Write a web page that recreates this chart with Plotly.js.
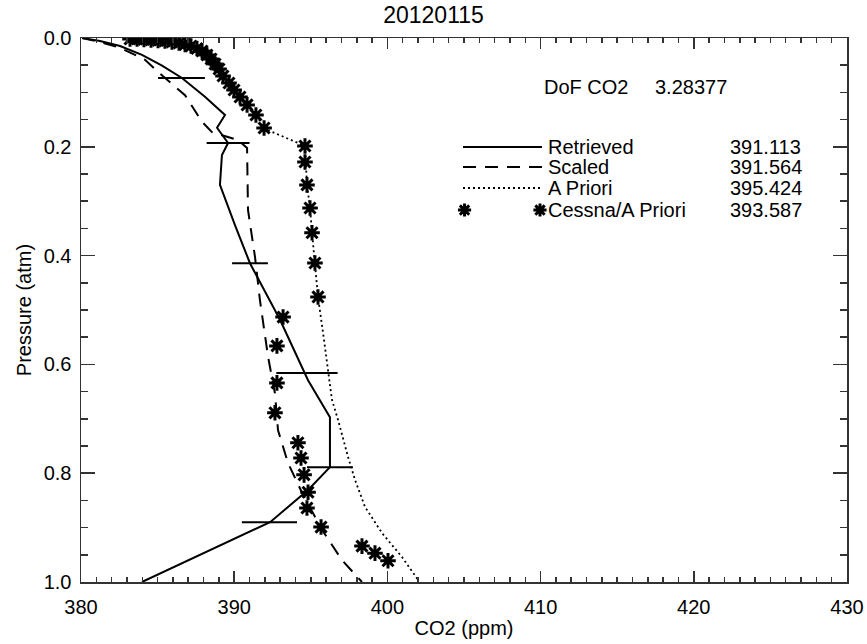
<!DOCTYPE html>
<html>
<head>
<meta charset="utf-8">
<script src="https://cdn.plot.ly/plotly-3.0.1.min.js"></script>
<style>html,body{margin:0;padding:0;background:#fff;}#chart{width:867px;height:644px;}</style>
</head>
<body>
<div id="chart"></div>
<script>
// ---- data ----
var retrievedCO2 = [380.07,381.24,382.55,383.98,385.29,386.59,388.09,389.40,388.88,389.60,389.20,389.07,390.05,391.03,392.99,394.82,396.25,396.25,394.82,392.34,383.98];
var retrievedP   = [0.0,0.0055,0.0147,0.031,0.051,0.0735,0.108,0.1415,0.165,0.193,0.215,0.270,0.344,0.414,0.518,0.629,0.697,0.789,0.831,0.890,1.0];

var errCO2 = [386.56,389.6,391.03,394.75,396.25,392.3];
var errP   = [0.0735,0.193,0.414,0.616,0.789,0.890];
var errHalf = [1.53,1.4,1.17,2.0,1.5,1.8];

var scaledCO2 = [380.07,381.24,382.55,384.18,385.03,386.79,387.90,388.55,390.25,390.84,390.90,391.36,391.68,392.21,392.66,392.86,393.51,394.43,395.73,397.04,398.34];
var scaledP   = [0.0,0.0074,0.018,0.040,0.0625,0.105,0.154,0.173,0.1875,0.202,0.316,0.403,0.482,0.586,0.653,0.721,0.781,0.836,0.904,0.960,1.0];

var aprioriCO2 = [383.07,385.16,386.66,387.77,388.42,388.94,389.60,390.25,390.84,391.49,391.88,394.62,394.75,394.95,395.08,395.27,395.47,395.80,396.12,396.38,396.78,397.43,397.89,398.54,399.65,400.95,402.0];
var aprioriP   = [0.0,0.0037,0.0092,0.022,0.040,0.0625,0.086,0.105,0.123,0.1415,0.1654,0.1985,0.270,0.3125,0.358,0.4136,0.476,0.542,0.605,0.665,0.702,0.770,0.8125,0.862,0.910,0.954,0.996];

var cessnaCO2 = [383.20,383.66,384.11,384.57,385.03,385.48,385.94,386.40,386.79,387.18,387.57,387.90,388.22,388.49,388.75,389.01,389.27,389.66,389.99,390.38,390.84,391.42,391.95,394.62,394.62,394.75,394.95,395.08,395.27,395.47,393.19,392.79,392.79,392.66,394.16,394.36,394.56,394.82,394.75,395.67,398.34,399.19,400.04];
var cessnaP   = [0.0018,0.0018,0.0028,0.0037,0.0046,0.0055,0.0074,0.0092,0.012,0.0147,0.0193,0.0239,0.0313,0.0386,0.0478,0.057,0.0699,0.0827,0.0956,0.1085,0.123,0.1415,0.1654,0.1985,0.228,0.270,0.3125,0.358,0.4136,0.476,0.513,0.566,0.634,0.689,0.744,0.772,0.803,0.835,0.864,0.899,0.934,0.947,0.961];

var legendNames  = ["Retrieved","Scaled","A Priori","Cessna/A Priori"];
var legendValues = ["391.113","391.564","395.424","393.587"];
var dofLabel = "DoF CO2";
var dofValue = "3.28377";
var xTicks = [380,390,400,410,420,430];
var yTicks = [0.0,0.2,0.4,0.6,0.8,1.0];
var titleText = "20120115";

// ---- styles ----
var FONT = "Liberation Sans, Arial, Helvetica, sans-serif";
var starMarker = {symbol:'asterisk-open', size:13, color:'black', line:{color:'black', width:3}};
var dotDash = '2px,3px';
var dashDash = '13px,9px';

var traces = [
  {x:aprioriCO2, y:aprioriP, mode:'lines', line:{color:'black', width:1.8, dash:dotDash}, hoverinfo:'skip'},
  {x:scaledCO2, y:scaledP, mode:'lines', line:{color:'black', width:2, dash:dashDash}, hoverinfo:'skip'},
  {x:retrievedCO2, y:retrievedP, mode:'lines', line:{color:'black', width:2}, hoverinfo:'skip'},
  {x:errCO2, y:errP, mode:'markers', marker:{size:1, color:'rgba(0,0,0,0)'},
   error_x:{type:'data', array:errHalf, symmetric:true, color:'black', thickness:2, width:0}, hoverinfo:'skip'},
  {x:cessnaCO2, y:cessnaP, mode:'markers', marker:starMarker, hoverinfo:'skip'}
];

// legend samples on an overlay axis (plot-area fractions)
var lgX0 = 0.4987, lgX1 = 0.6018;
var lgY = [0.7996, 0.7629, 0.7243, 0.6838];
traces.push({x:[lgX0,lgX1], y:[lgY[0],lgY[0]], xaxis:'x2', yaxis:'y2', mode:'lines', line:{color:'black', width:2}, hoverinfo:'skip'});
traces.push({x:[lgX0,lgX1], y:[lgY[1],lgY[1]], xaxis:'x2', yaxis:'y2', mode:'lines', line:{color:'black', width:2, dash:dashDash}, hoverinfo:'skip'});
traces.push({x:[lgX0,lgX1], y:[lgY[2],lgY[2]], xaxis:'x2', yaxis:'y2', mode:'lines', line:{color:'black', width:1.8, dash:dotDash}, hoverinfo:'skip'});
traces.push({x:[lgX0+0.002,0.5992], y:[lgY[3],lgY[3]], xaxis:'x2', yaxis:'y2', mode:'markers', marker:{symbol:'asterisk-open', size:11, color:'black', line:{color:'black', width:3}}, hoverinfo:'skip'});

var annotations = [];
for (var i=0;i<legendNames.length;i++){
  annotations.push({xref:'paper', yref:'paper', x:0.6070, y:lgY[i], text:legendNames[i], showarrow:false, xanchor:'left', yanchor:'middle', font:{family:FONT, size:20, color:'black'}});
  annotations.push({xref:'paper', yref:'paper', x:0.8446, y:lgY[i], text:legendValues[i], showarrow:false, xanchor:'left', yanchor:'middle', font:{family:FONT, size:20, color:'black'}});
}
annotations.push({xref:'paper', yref:'paper', x:0.6018, y:0.9099, text:dofLabel, showarrow:false, xanchor:'left', yanchor:'middle', font:{family:FONT, size:20, color:'black'}});
annotations.push({xref:'paper', yref:'paper', x:0.7467, y:0.9099, text:dofValue, showarrow:false, xanchor:'left', yanchor:'middle', font:{family:FONT, size:20, color:'black'}});

var axisCommon = {showline:true, linecolor:'#333', linewidth:1.5, mirror:'ticks', ticks:'inside', tickcolor:'#333', tickwidth:1.5, showgrid:false, zeroline:false,
  tickfont:{family:FONT, size:20, color:'black'}};

var layout = {
  width:867, height:644,
  margin:{l:81, r:20, t:38, b:62, pad:0},
  paper_bgcolor:'white', plot_bgcolor:'white',
  showlegend:false,
  title:{text:titleText, font:{family:FONT, size:23, color:'black'}, x:0.5, xref:'container', y:0.977, yanchor:'middle'},
  xaxis:Object.assign({}, axisCommon, {range:[380,430], tickmode:'array', tickvals:xTicks, ticktext:xTicks.map(String), ticklen:11,
    minor:{dtick:1, ticks:'inside', ticklen:5, tickcolor:'#333', tickwidth:1.5},
    ticklabelstandoff:6,
    title:{text:'CO2 (ppm)', font:{family:FONT, size:20, color:'black'}, standoff:4}}),
  yaxis:Object.assign({}, axisCommon, {range:[1.0,0.0], tickmode:'array', tickvals:yTicks, ticktext:yTicks.map(function(v){return v.toFixed(1);}), ticklen:14,
    minor:{dtick:0.05, ticks:'inside', ticklen:7, tickcolor:'#333', tickwidth:1.5},
    ticklabelstandoff:4,
    title:{text:'Pressure (atm)', font:{family:FONT, size:20, color:'black'}, standoff:6}}),
  xaxis2:{overlaying:'x', range:[0,1], visible:false, fixedrange:true},
  yaxis2:{overlaying:'y', range:[0,1], visible:false, fixedrange:true},
  annotations:annotations
};

Plotly.newPlot('chart', traces, layout, {staticPlot:true, displayModeBar:false});
</script>
</body>
</html>
